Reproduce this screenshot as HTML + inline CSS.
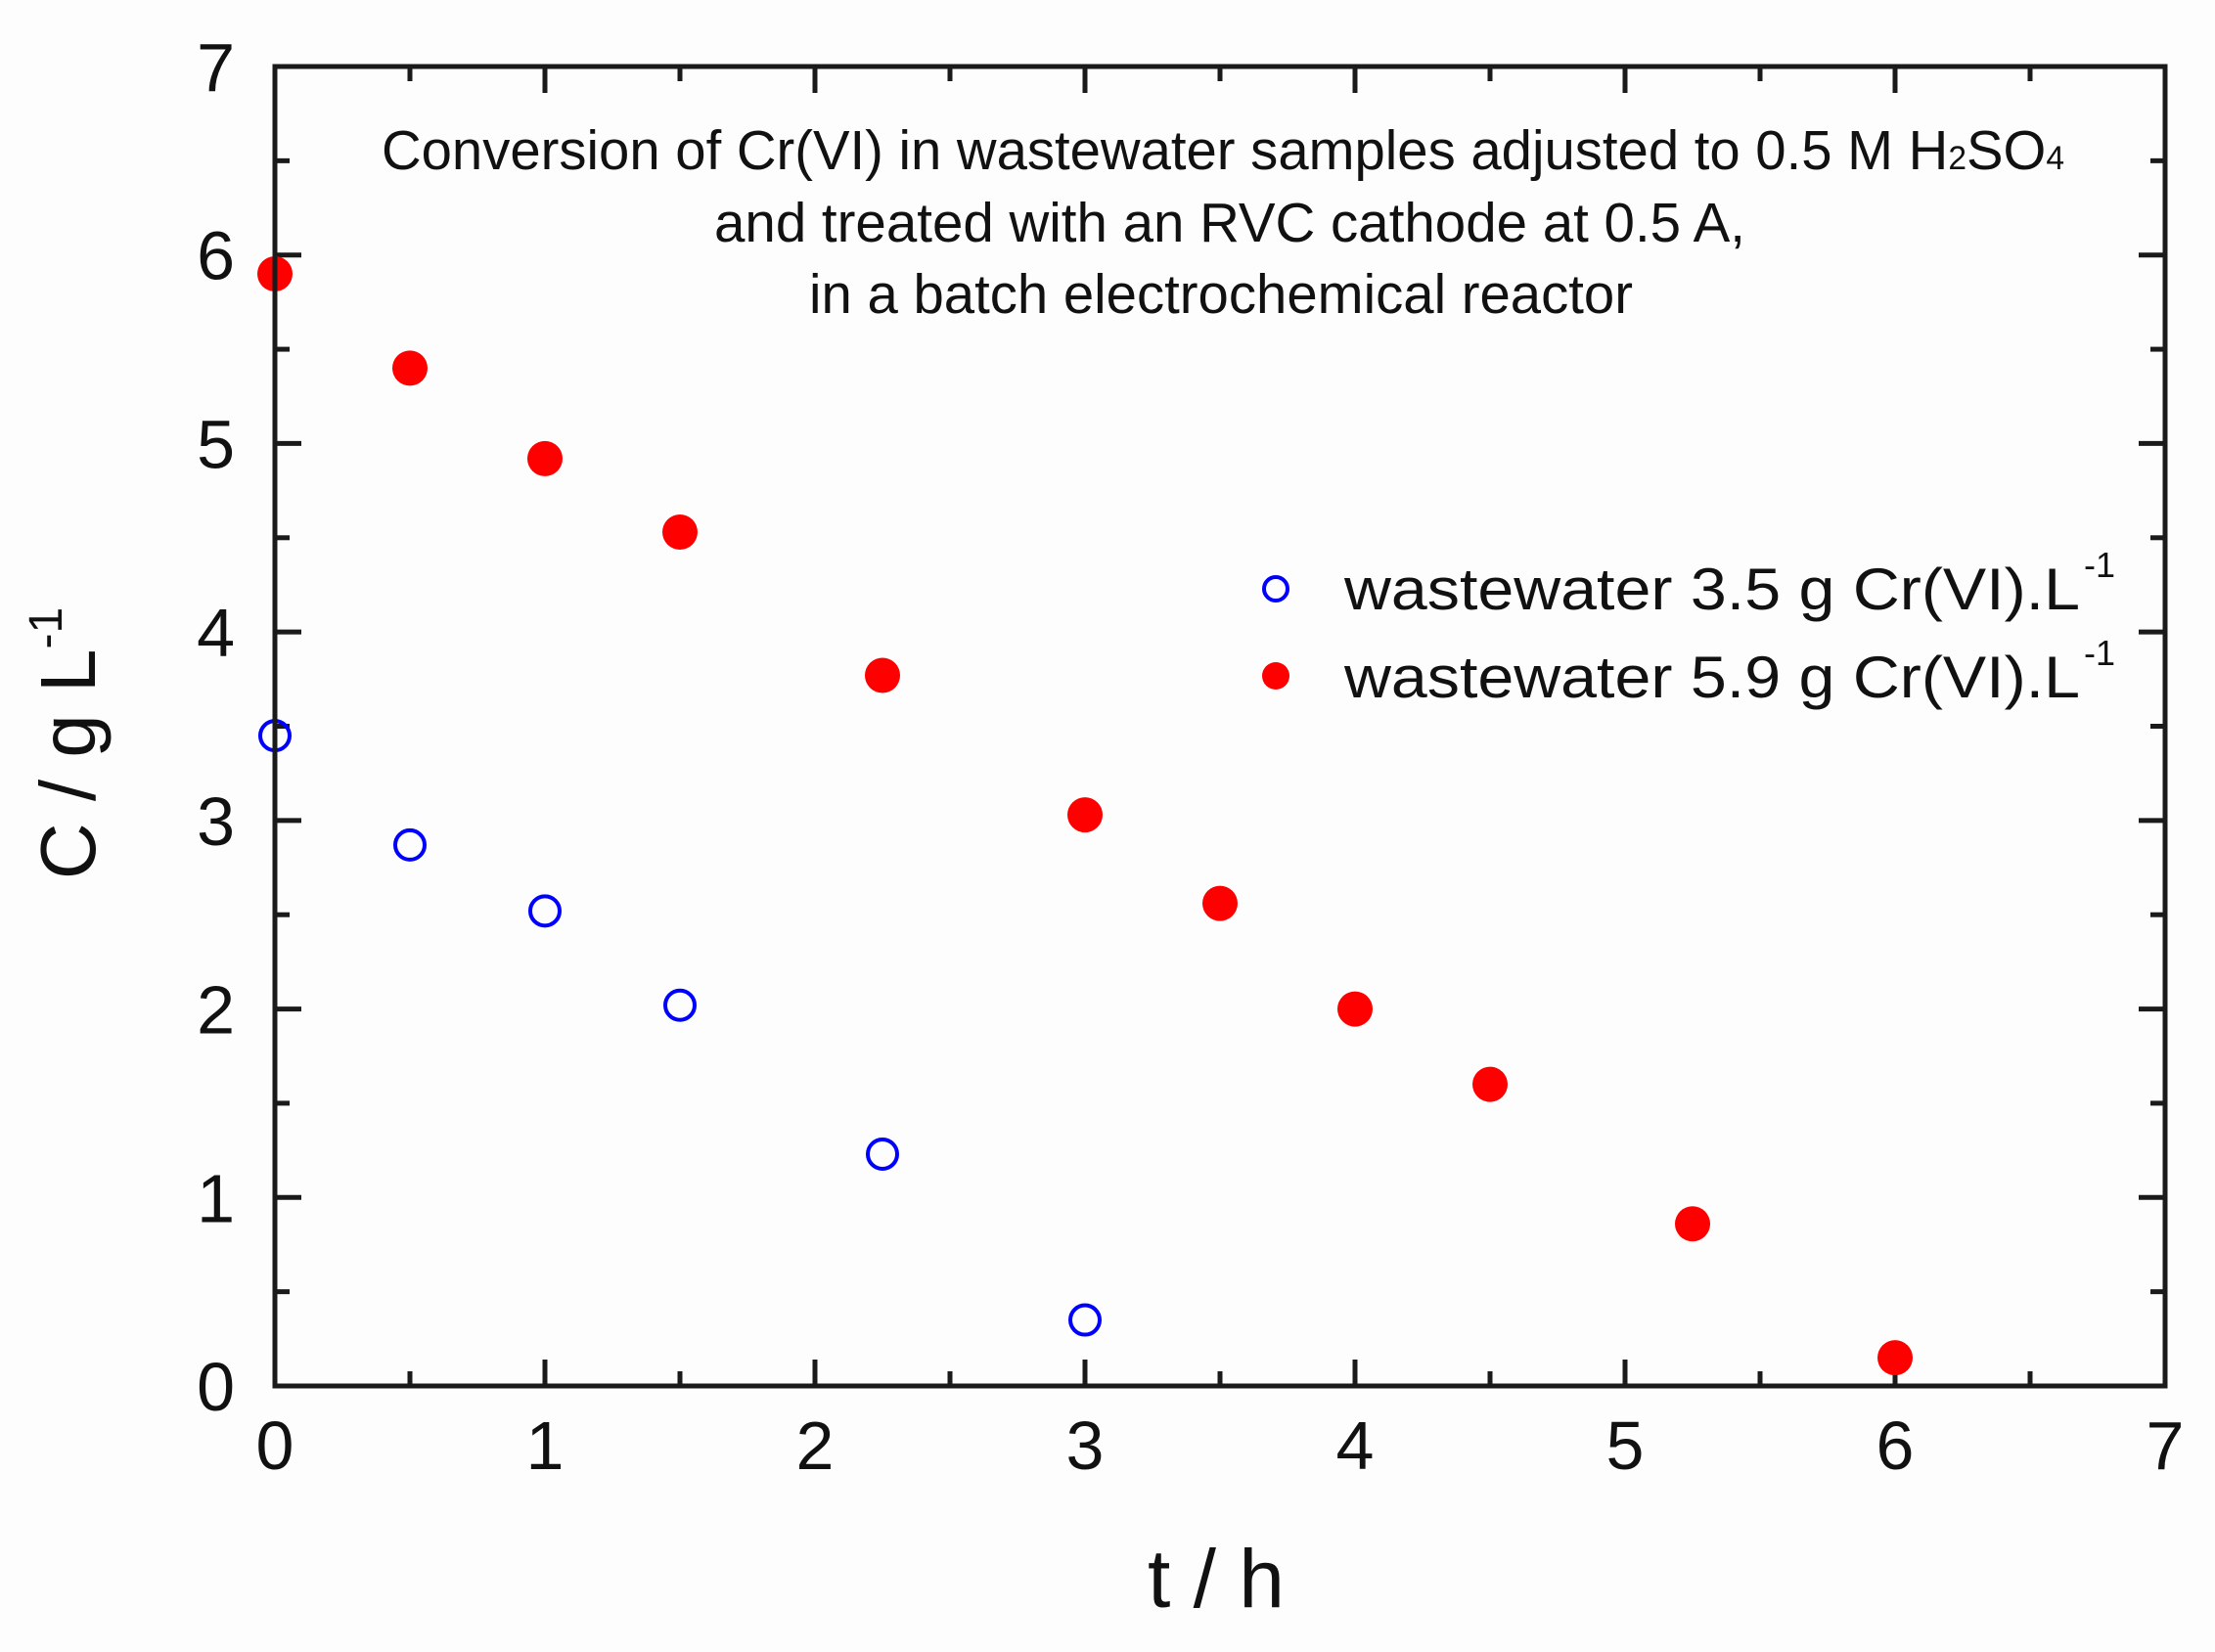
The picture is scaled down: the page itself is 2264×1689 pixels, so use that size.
<!DOCTYPE html>
<html><head><meta charset="utf-8"><style>
html,body{margin:0;padding:0;background:#fdfdfd;}
svg{display:block;font-family:"Liberation Sans",Arial,sans-serif;}
</style></head><body>
<svg id="chart" width="2264" height="1689" viewBox="0 0 2264 1689" xmlns="http://www.w3.org/2000/svg">
<rect x="0" y="0" width="2264" height="1689" fill="#fdfdfd"/>
<g id="ticks"></g>
<g id="marks"></g>
<rect x="281" y="68" width="1932" height="1349" fill="none" stroke="#1a1a1a" stroke-width="5"/>
<g font-size="57" fill="#111" text-anchor="middle">
<text x="1250" y="173" textLength="1720" lengthAdjust="spacingAndGlyphs">Conversion of Cr(VI) in wastewater samples adjusted to 0.5 M H<tspan font-size="34">2</tspan>SO<tspan font-size="34">4</tspan></text>
<text x="1257" y="247" textLength="1054" lengthAdjust="spacingAndGlyphs">and treated with an RVC cathode at 0.5 A,</text>
<text x="1248" y="320" textLength="842" lengthAdjust="spacingAndGlyphs">in a batch electrochemical reactor</text>
</g>
<g font-size="60" fill="#111">
<circle cx="1304" cy="602" r="12" fill="none" stroke="#0000ff" stroke-width="4"/>
<text x="1374" y="623" textLength="752" lengthAdjust="spacingAndGlyphs">wastewater 3.5 g Cr(VI).L</text>
<text x="2130" y="590" font-size="36">-1</text>
<circle cx="1304" cy="691" r="14" fill="#ff0000"/>
<text x="1374" y="713" textLength="752" lengthAdjust="spacingAndGlyphs">wastewater 5.9 g Cr(VI).L</text>
<text x="2130" y="680" font-size="36">-1</text>
</g>
<text x="1243" y="1643" font-size="84" text-anchor="middle" fill="#111">t / h</text>
<text transform="translate(97,760) rotate(-90)" font-size="80" text-anchor="middle" fill="#111">C / g L<tspan font-size="48" dy="-34">-1</tspan></text>
</svg>
<script>
const xTicks=[0,1,2,3,4,5,6,7];
const yTicks=[0,1,2,3,4,5,6,7];
const timeA=[0,0.5,1,1.5,2.25,3];
const concA=[3.45,2.87,2.52,2.02,1.23,0.35];
const timeB=[0,0.5,1,1.5,2.25,3,3.5,4,4.5,5.25,6];
const concB=[5.9,5.4,4.92,4.53,3.77,3.03,2.56,2.0,1.6,0.86,0.15];
const L=281,R=2213,T=68,B=1417;
const sx=v=>L+(v-0)/7*(R-L);
const sy=v=>B-(v-0)/7*(B-T);
const NS='http://www.w3.org/2000/svg';
const tg=document.getElementById('ticks'), mg=document.getElementById('marks');
function line(x1,y1,x2,y2){const l=document.createElementNS(NS,'line');l.setAttribute('x1',x1);l.setAttribute('y1',y1);l.setAttribute('x2',x2);l.setAttribute('y2',y2);l.setAttribute('stroke','#1a1a1a');l.setAttribute('stroke-width','5');tg.appendChild(l);return l;}
for(let i=0;i<xTicks.length;i++){
  const v=xTicks[i],x=sx(v);
  let l=line(x,B,x,B-27);
  
  
  l=line(x,T,x,T+27);
  
  
  if(i<xTicks.length-1){const xm=sx(v+0.5);
    l=line(xm,B,xm,B-15);
    
    
    l=line(xm,T,xm,T+15);
    
    }
  const t=document.createElementNS(NS,'text');t.setAttribute('x',x);t.setAttribute('y',1502);t.setAttribute('font-size','70');t.setAttribute('text-anchor','middle');t.setAttribute('fill','#111');t.textContent=v;
  
  
  tg.appendChild(t);
}
for(let i=0;i<yTicks.length;i++){
  const v=yTicks[i],y=sy(v);
  let l=line(L,y,L+27,y);
  
  
  l=line(R,y,R-27,y);
  
  
  if(i<yTicks.length-1){const ym=sy(v+0.5);
    l=line(L,ym,L+15,ym);
    
    
    l=line(R,ym,R-15,ym);
    
    }
  const t=document.createElementNS(NS,'text');t.setAttribute('x',240);t.setAttribute('y',y+25);t.setAttribute('font-size','70');t.setAttribute('text-anchor','end');t.setAttribute('fill','#111');t.textContent=v;
  
  
  tg.appendChild(t);
}
for(let i=0;i<timeB.length;i++){
  const c=document.createElementNS(NS,'circle');c.setAttribute('cx',sx(timeB[i]));c.setAttribute('cy',sy(concB[i]));c.setAttribute('r','18');c.setAttribute('fill','#ff0000');
  
  
  mg.appendChild(c);
}
for(let i=0;i<timeA.length;i++){
  const c=document.createElementNS(NS,'circle');c.setAttribute('cx',sx(timeA[i]));c.setAttribute('cy',sy(concA[i]));c.setAttribute('r','15');c.setAttribute('fill','none');c.setAttribute('stroke','#0000ff');c.setAttribute('stroke-width','4');
  
  
  mg.appendChild(c);
}
</script>
</body></html>
